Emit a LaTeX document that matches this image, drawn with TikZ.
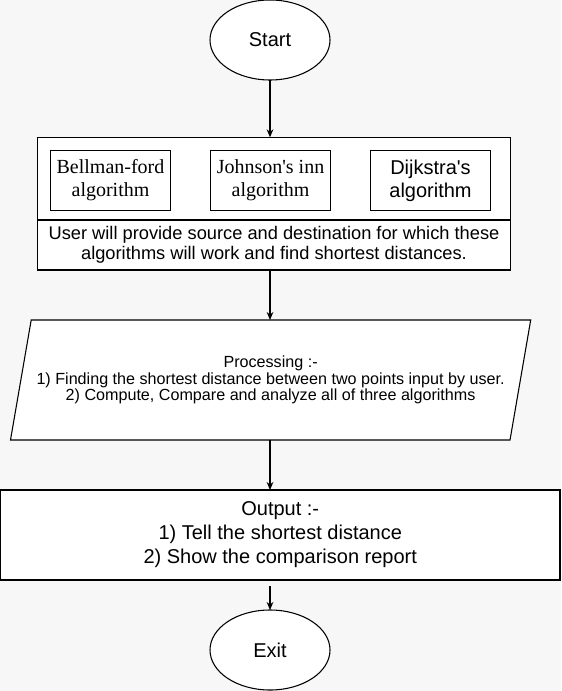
\documentclass[tikz,border=0pt]{standalone}
\usepackage{fontspec}
\setmainfont{Liberation Sans}
\newfontfamily\serifz{Liberation Serif}
\usetikzlibrary{shapes.geometric,arrows.meta,backgrounds}
\definecolor{bggray}{HTML}{F7F7F7}
\tikzset{
  every node/.style={inner sep=0pt, outer sep=0pt},
  lw/.style={line width=0.8pt},
  term/.style={ellipse, draw, lw, fill=white, minimum width=120*0.75pt, minimum height=80*0.75pt, font=\fontsize{15}{18}\selectfont},
  box/.style={rectangle, draw, lw, fill=white, align=center},
  algbox/.style={box, minimum width=120*0.75pt, minimum height=60*0.75pt},
  conn/.style={lw, -{Stealth[length=6pt,width=5pt]}},
}
\begin{document}
\begin{tikzpicture}[x=0.75pt, y=-0.75pt]
\begin{scope}[on background layer]
  \fill[bggray] (0,0) rectangle (561,691);
\end{scope}
\useasboundingbox (0,0) rectangle (561,691);

\node[term] (start) at (270,40) {Start};

\node[box, minimum width=473.4*0.75pt, minimum height=82.7*0.75pt] (algs) at (274,178.65) {};
\node[box, minimum width=473.4*0.75pt, minimum height=50*0.75pt,
      font=\fontsize{13.7}{15}\selectfont] (user) at (274,245)
      {User will provide source and destination for which these\\algorithms will work and find shortest distances.};

\node[algbox, font=\serifz\fontsize{15}{17.25}\selectfont] (bell) at (110.5,180.5) {Bellman-ford\\algorithm};
\node[algbox, font=\serifz\fontsize{15}{17.25}\selectfont] (john) at (270.5,180.5) {Johnson\textquotesingle s inn\\algorithm};
\node[algbox, font=\fontsize{15}{17.25}\selectfont] (dijk) at (430.5,180.5) {Dijkstra\textquotesingle s\\algorithm};

\node[align=center, minimum width=520.2*0.75pt, minimum height=120*0.75pt,
      font=\fontsize{12.1}{12.6}\selectfont] (proc) at (270.6,380)
      {Processing :-\\1) Finding the shortest distance between two points input by user.\\2) Compute, Compare and analyze all of three algorithms};
\begin{scope}[on background layer]
  \draw[lw, fill=white] ([xshift=20.7*0.75pt]proc.north west) -- (proc.north east)
     -- ([xshift=-20.7*0.75pt]proc.south east) -- (proc.south west) -- cycle;
\end{scope}

\node[box, minimum width=559.5*0.75pt, minimum height=90*0.75pt,
      font=\fontsize{15}{18}\selectfont] (out) at (280.25,535)
      {Output :-\\1) Tell the shortest distance\\2) Show the comparison report};

\node[term] (exit) at (270,650) {Exit};

\draw[conn] (start.south) -- (start.south |- algs.north);
\draw[conn] (start.south |- user.south) -- ([xshift=-0.6*0.75pt]proc.north);
\draw[conn] ([xshift=-0.6*0.75pt]proc.south) -- ([xshift=-0.6*0.75pt]proc.south |- out.north);
\draw[conn, shorten <=6*0.75pt] (exit.north |- out.south) -- (exit.north);
\end{tikzpicture}
\end{document}
